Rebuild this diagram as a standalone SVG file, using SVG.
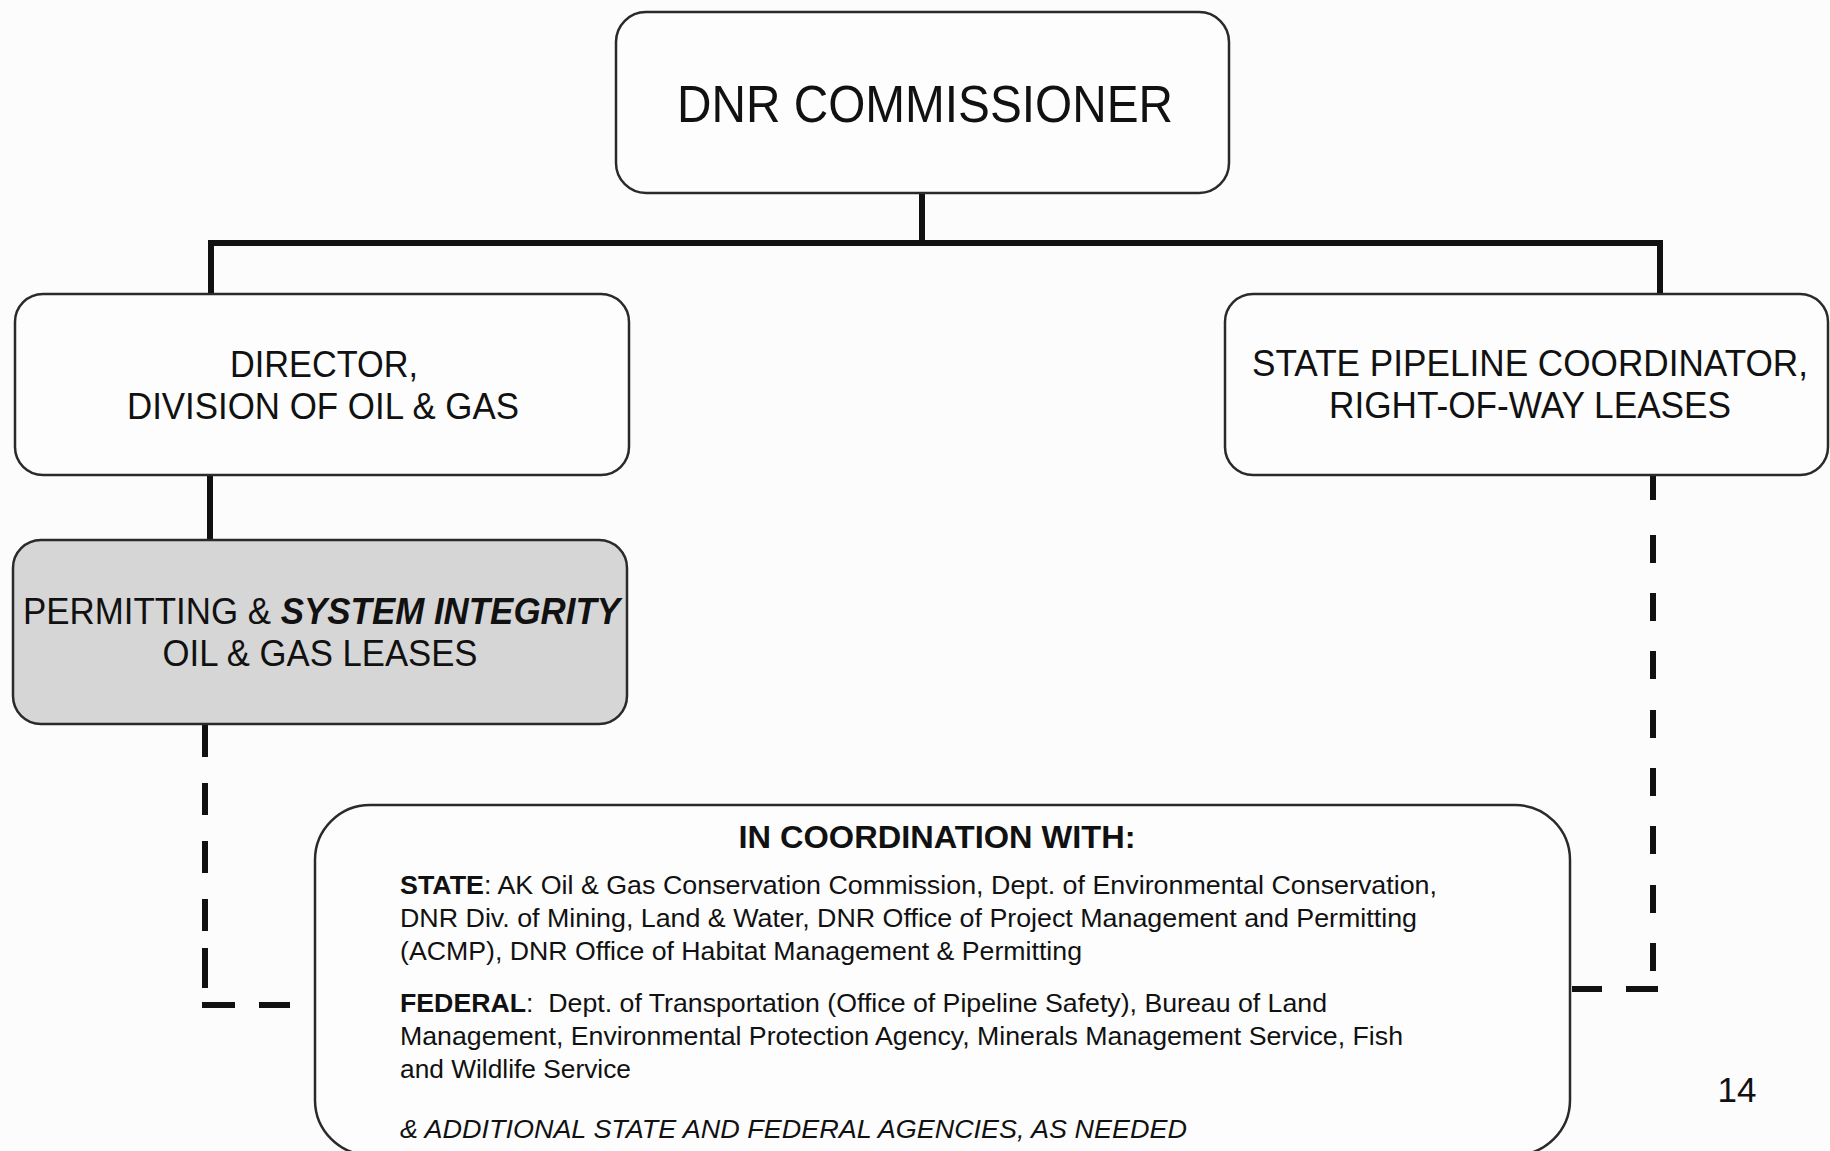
<svg xmlns="http://www.w3.org/2000/svg" width="1830" height="1151" viewBox="0 0 1830 1151">
<style>
  text { font-family: "Liberation Sans", Arial, sans-serif; fill: #111; }
  .box { fill: #fdfdfd; stroke: #2a2a2a; stroke-width: 2.5; }
  .gray { fill: #d6d6d6; }
  .solid { stroke: #111; stroke-width: 6; fill: none; }
  .dash { stroke: #111; stroke-width: 6; fill: none; }
  .t35 { font-size: 36px; }
  .body { font-size: 26px; }
  .b { font-weight: bold; }
</style>
<rect x="0" y="0" width="1830" height="1151" fill="#fcfcfc"/>

<g id="connectors">
  <path class="solid" d="M922 193 V243 M208 243 H1663 M211 240 V294 M1660 240 V294 M210 475 V540"/>
  <path class="dash" d="M205 724 V757 M205 783 V815 M205 841 V873 M205 899 V931 M205 948 V988 M202 1005 H235 M259 1005 H290"/>
  <path class="dash" d="M1653 475 V500 M1653 535 V563 M1653 593 V621 M1653 651 V679 M1653 710 V738 M1653 768 V796 M1653 826 V854 M1653 885 V913 M1653 943 V971 M1572 989 H1602 M1626 989 H1658"/>
</g>

<g id="node-commissioner">
  <rect class="box" x="616" y="12" width="613" height="181" rx="30"/>
  <text x="925" y="122" font-size="52" text-anchor="middle" textLength="496" lengthAdjust="spacingAndGlyphs">DNR COMMISSIONER</text>
</g>

<g id="node-director">
  <rect class="box" x="15" y="294" width="614" height="181" rx="28"/>
  <text class="t35" x="324" y="377" text-anchor="middle" textLength="188" lengthAdjust="spacingAndGlyphs">DIRECTOR,</text>
  <text class="t35" x="323" y="419" text-anchor="middle" textLength="392" lengthAdjust="spacingAndGlyphs">DIVISION OF OIL &amp; GAS</text>
</g>

<g id="node-permitting">
  <rect class="box gray" x="13" y="540" width="614" height="184" rx="28"/>
  <text class="t35" x="23" y="624" textLength="597" lengthAdjust="spacingAndGlyphs">PERMITTING &amp; <tspan class="b" font-style="italic">SYSTEM INTEGRITY</tspan></text>
  <text class="t35" x="320" y="666" text-anchor="middle" textLength="315" lengthAdjust="spacingAndGlyphs">OIL &amp; GAS LEASES</text>
</g>

<g id="node-pipeline">
  <rect class="box" x="1225" y="294" width="603" height="181" rx="28"/>
  <text class="t35" x="1530" y="376" text-anchor="middle" textLength="556" lengthAdjust="spacingAndGlyphs">STATE PIPELINE COORDINATOR,</text>
  <text class="t35" x="1530" y="418" text-anchor="middle" textLength="402" lengthAdjust="spacingAndGlyphs">RIGHT-OF-WAY LEASES</text>
</g>

<g id="node-coordination">
  <rect class="box" x="315" y="805" width="1255" height="350" rx="55"/>
  <text x="937" y="848" font-size="31" class="b" text-anchor="middle" textLength="397" lengthAdjust="spacingAndGlyphs">IN COORDINATION WITH:</text>
  <text class="body" x="400" y="894" textLength="1037" lengthAdjust="spacingAndGlyphs"><tspan class="b">STATE</tspan>: AK Oil &amp; Gas Conservation Commission, Dept. of Environmental Conservation,</text>
  <text class="body" x="400" y="927" textLength="1017" lengthAdjust="spacingAndGlyphs">DNR Div. of Mining, Land &amp; Water, DNR Office of Project Management and Permitting</text>
  <text class="body" x="400" y="960" textLength="682" lengthAdjust="spacingAndGlyphs">(ACMP), DNR Office of Habitat Management &amp; Permitting</text>
  <text class="body" x="400" y="1012" textLength="927" lengthAdjust="spacingAndGlyphs"><tspan class="b">FEDERAL</tspan>:&#160; Dept. of Transportation (Office of Pipeline Safety), Bureau of Land</text>
  <text class="body" x="400" y="1045" textLength="1003" lengthAdjust="spacingAndGlyphs">Management, Environmental Protection Agency, Minerals Management Service, Fish</text>
  <text class="body" x="400" y="1078" textLength="231" lengthAdjust="spacingAndGlyphs">and Wildlife Service</text>
  <text class="body" x="400" y="1138" font-style="italic" textLength="787" lengthAdjust="spacingAndGlyphs">&amp; ADDITIONAL STATE AND FEDERAL AGENCIES, AS NEEDED</text>
</g>

<g id="page-number">
  <text x="1737" y="1102" font-size="35" text-anchor="middle">14</text>
</g>
</svg>
